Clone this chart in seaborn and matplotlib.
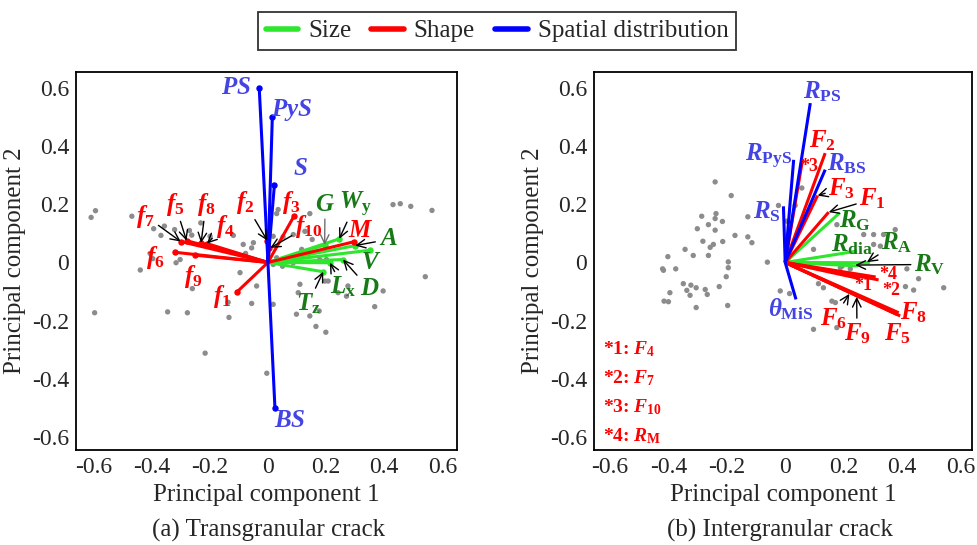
import matplotlib
matplotlib.use("Agg")
import matplotlib.pyplot as plt
import seaborn as sns
import pandas as pd
from matplotlib.lines import Line2D

sns.set_theme(style="white")
plt.rcParams["font.family"] = ["Liberation Serif", "DejaVu Serif"]
plt.rcParams["mathtext.fontset"] = "custom"
plt.rcParams["mathtext.it"] = "Liberation Serif:italic:bold"
plt.rcParams["mathtext.rm"] = "Liberation Serif:bold"
plt.rcParams["mathtext.bf"] = "Liberation Serif:bold"
plt.rcParams["axes.unicode_minus"] = False

# ---------------- data ----------------
tick_values = [-0.6, -0.4, -0.2, 0, 0.2, 0.4, 0.6]
tick_labels = ["-0.6", "-0.4", "-0.2", "0", "0.2", "0.4", "0.6"]
legend_labels = ["Size", "Shape", "Spatial distribution"]

# (a) Transgranular crack: loading vectors
a_names = ["PS", "PyS", "S", "BS",
           "f1", "f2", "f3", "f4", "f5", "f6", "f7", "f8", "f9", "f10", "M",
           "G", "Wy", "A", "V", "D", "Lx", "Tz"]
a_pc1 = [-0.030, 0.015, 0.022, 0.024,
         -0.105, -0.002, 0.090, -0.210, -0.280, -0.320, -0.300, -0.230, -0.250, 0.005, 0.295,
         0.195, 0.245, 0.300, 0.350, 0.258, 0.213, 0.190]
a_pc2 = [0.600, 0.500, 0.265, -0.500,
         -0.100, 0.075, 0.160, 0.065, 0.075, 0.035, 0.072, 0.067, 0.025, 0.050, 0.071,
         0.060, 0.081, 0.058, 0.042, 0.010, -0.001, -0.032]
a_group = ["Spatial distribution"] * 4 + ["Shape"] * 11 + ["Size"] * 7

# (a) scores
a_score_x = [-0.608, -0.593, -0.468, -0.393, -0.368, -0.356, -0.321, -0.270, -0.231, -0.405,
             -0.396, -0.316, -0.302, -0.439, -0.260, -0.596, -0.345, -0.277, -0.216, -0.262,
             -0.199, -0.085, -0.119, 0.035, 0.030, 0.144, -0.050, 0.018, 0.430, 0.455,
             0.491, 0.564, -0.056, -0.077, 0.052, 0.087, 0.127, 0.152, 0.116, 0.178,
             0.201, 0.087, 0.050, 0.030, 0.018, -0.039, -0.056, 0.018, 0.110, 0.104,
             0.098, 0.144, 0.196, 0.207, 0.241, 0.270, 0.275, 0.396, 0.367, 0.541,
             0.176, -0.096, -0.004, -0.137, -0.134, 0.199, 0.165]
a_score_y = [0.155, 0.178, 0.159, 0.116, 0.093, 0.125, 0.113, 0.110, 0.136, 0.031,
             0.013, -0.001, 0.010, -0.026, -0.090, -0.173, -0.170, -0.173, -0.312, 0.094,
             0.090, 0.062, 0.093, 0.182, 0.168, 0.168, 0.068, 0.090, 0.199, 0.202,
             0.193, 0.179, 0.050, 0.031, 0.088, 0.096, 0.107, 0.079, 0.045, 0.010,
             0.010, -0.001, -0.013, 0.016, -0.007, -0.081, -0.141, -0.144, -0.075, -0.104,
             -0.178, -0.184, -0.064, -0.064, -0.104, -0.116, -0.081, -0.098, -0.152, -0.049,
             -0.167, -0.035, -0.381, -0.137, -0.189, -0.240, -0.220]

# (b) Intergranular crack: loading vectors
b_names = ["RPS", "RPyS", "RS", "RBS", "thMiS",
           "F1", "F2", "F3", "F4", "F5", "F6", "F7", "F8", "F9", "F10", "RM",
           "RG", "Rdia", "RA", "RV"]
b_pc1 = [0.086, 0.029, -0.006, 0.137, 0.037,
         0.149, 0.137, 0.111, 0.257, 0.394, 0.375, 0.320, 0.389, 0.385, 0.060, 0.310,
         0.186, 0.246, 0.290, 0.250]
b_pc2 = [0.548, 0.353, 0.193, 0.319, -0.127,
         0.173, 0.376, 0.230, -0.056, -0.184, -0.172, -0.060, -0.173, -0.180, 0.356, -0.050,
         0.170, 0.039, -0.001, -0.012]
b_group = ["Spatial distribution"] * 5 + ["Shape"] * 11 + ["Size"] * 4

# (b) scores
b_score_x = [-0.240, -0.185, -0.286, -0.237, -0.240, -0.263, -0.215, -0.301, -0.240, -0.128,
             -0.172, -0.128, -0.114, -0.282, -0.246, -0.257, -0.214, -0.343, -0.315, -0.263,
             -0.402, -0.420, -0.417, -0.375, -0.195, -0.195, -0.202, -0.061, -0.349, -0.323,
             -0.305, -0.337, -0.274, -0.226, -0.326, -0.267, -0.395, -0.415, -0.400, -0.305,
             -0.197, -0.017, 0.015, -0.023, 0.006, 0.057, 0.034, 0.097, 0.177, 0.269,
             0.303, 0.337, 0.377, 0.195, 0.189, 0.223, 0.417, 0.457, 0.412, 0.440,
             0.543, 0.114, 0.131, 0.160, 0.172, 0.097, 0.177, 0.303, 0.326]
b_score_y = [0.277, 0.230, 0.159, 0.168, 0.151, 0.130, 0.141, 0.116, 0.111, 0.157,
             0.093, 0.088, 0.068, 0.073, 0.062, 0.052, 0.072, 0.045, 0.024, 0.024,
             0.020, -0.022, -0.027, -0.022, 0.002, -0.018, -0.049, 0.001, -0.073, -0.078,
             -0.087, -0.096, -0.093, -0.083, -0.113, -0.110, -0.104, -0.133, -0.135, -0.155,
             -0.148, -0.098, -0.107, 0.196, 0.142, 0.256, 0.196, 0.045, 0.130, 0.096,
             0.096, 0.096, 0.113, -0.013, -0.018, -0.022, -0.022, -0.056, -0.083, -0.095,
             -0.087, -0.073, -0.087, -0.133, -0.138, -0.230, -0.224, 0.062, 0.056]

footnotes = ["*1: $F_4$", "*2: $F_7$", "*3: $F_{10}$", "*4: $R_\\mathrm{M}$"]

# ---------------- layout / style ----------------
line_col = {"Size": "#2ee62e", "Shape": "#ff0000", "Spatial distribution": "#0000ff"}
text_col = {"Size": "#177a17", "Shape": "#ff0000", "Spatial distribution": "#4444e4"}

# label text, label position, arrow target (or None)
a_labels = {
    "PS": ("$PS$", (-0.11, 0.600), None),
    "PyS": ("$PyS$", (0.080, 0.525), None),
    "S": ("$S$", (0.11, 0.320), None),
    "BS": ("$BS$", (0.075, -0.545), None),
    "f1": ("$f_1$", (-0.158, -0.117), None),
    "f2": ("$f_2$", (-0.079, 0.205), (-0.002, 0.075)),
    "f3": ("$f_3$", (0.080, 0.205), None),
    "f4": ("$f_4$", (-0.148, 0.125), (-0.210, 0.065)),
    "f5": ("$f_5$", (-0.319, 0.199), (-0.280, 0.075)),
    "f6": ("$f_6$", (-0.388, 0.016), None),
    "f7": ("$f_7$", (-0.420, 0.159), (-0.300, 0.072)),
    "f8": ("$f_8$", (-0.213, 0.199), (-0.230, 0.067)),
    "f9": ("$f_9$", (-0.256, -0.047), None),
    "f10": ("$f_{10}$", (0.140, 0.125), (0.008, 0.050)),
    "M": ("$M$", (0.320, 0.108), None),
    "G": ("$G$", (0.196, 0.198), (0.195, 0.060)),
    "Wy": ("$W_\\mathrm{y}$", (0.300, 0.200), (0.245, 0.081)),
    "A": ("$A$", (0.413, 0.079), (0.300, 0.058)),
    "V": ("$V$", (0.356, -0.003), None),
    "D": ("$D$", (0.350, -0.093), (0.258, 0.010)),
    "Lx": ("$L_\\mathrm{x}$", (0.258, -0.085), (0.213, -0.001)),
    "Tz": ("$T_\\mathrm{z}$", (0.138, -0.142), (0.190, -0.032)),
}
b_labels = {
    "RPS": ("$R_\\mathrm{PS}$", (0.126, 0.588), None),
    "RPyS": ("$R_\\mathrm{PyS}$", (-0.057, 0.363), None),
    "RS": ("$R_\\mathrm{S}$", (-0.063, 0.176), None),
    "RBS": ("$R_\\mathrm{BS}$", (0.212, 0.340), None),
    "thMiS": ("$\\theta_\\mathrm{MiS}$", (0.020, -0.160), None),
    "F1": ("$F_1$", (0.300, 0.218), (0.149, 0.173)),
    "F2": ("$F_2$", (0.126, 0.420), None),
    "F3": ("$F_3$", (0.194, 0.255), (0.111, 0.230)),
    "F4": ("*1", (0.269, -0.078), None),
    "F5": ("$F_5$", (0.383, -0.245), None),
    "F6": ("$F_6$", (0.166, -0.193), (0.220, -0.108)),
    "F7": ("*2", (0.362, -0.095), None),
    "F8": ("$F_8$", (0.440, -0.173), None),
    "F9": ("$F_9$", (0.246, -0.245), (0.245, -0.118)),
    "F10": ("*3", (0.083, 0.330), None),
    "RM": ("*4", (0.352, -0.043), None),
    "RG": ("$R_\\mathrm{G}$", (0.240, 0.142), None),
    "Rdia": ("$R_\\mathrm{dia}$", (0.229, 0.062), None),
    "RA": ("$R_\\mathrm{A}$", (0.383, 0.068), (0.280, 0.001)),
    "RV": ("$R_\\mathrm{V}$", (0.495, -0.007), (0.240, -0.009)),
}

W, H = 977, 545
fig = plt.figure(figsize=(W / 100, H / 100), dpi=100)
ax_a = fig.add_axes([76 / W, 1 - 450 / H, 381 / W, 378 / H])
ax_b = fig.add_axes([594 / W, 1 - 450 / H, 378 / W, 378 / H])


def draw_panel(ax, sx, sy, names, px, py, groups, labels, xlim, markers):
    sns.scatterplot(x=sx, y=sy, ax=ax, color="#8c8c8c", s=15, edgecolor="none",
                    legend=False, zorder=1)
    df = pd.DataFrame({"name": names, "x": px, "y": py, "group": groups})
    order = {"Size": 2, "Shape": 3, "Spatial distribution": 4}
    for _, r in df.iterrows():
        c = line_col[r.group]
        ax.plot([0, r.x], [0, r.y], color=c, lw=2.2, zorder=order[r.group],
                solid_capstyle="butt")
        if markers:
            ax.plot([r.x], [r.y], "o", color=c, ms=3.6, zorder=order[r.group])
    for _, r in df.iterrows():
        txt, pos, tgt = labels[r["name"]]
        c = text_col[r.group]
        small = txt.startswith("*")
        fs = 13 if small else 18
        kw = dict(ha="center", va="center", fontsize=fs, color=c, zorder=6)
        if small:
            kw["fontweight"] = "bold"
        if tgt is None:
            ax.text(pos[0], pos[1], txt, **kw)
        else:
            acol = "#707070" if r["name"] == "G" else "black"
            ax.annotate(txt, xy=tgt, xytext=pos,
                        arrowprops=dict(arrowstyle="->,head_length=0.35,head_width=0.17",
                                        color=acol, lw=1.0, shrinkA=0, shrinkB=0),
                        **kw)
    ax.set_xlim(*xlim)
    ax.set_ylim(-0.645, 0.655)
    ax.set_xticks(tick_values)
    ax.set_xticklabels(tick_labels)
    ax.set_yticks(tick_values)
    ax.set_yticklabels(tick_labels)
    ax.tick_params(length=0, labelsize=17, pad=5)
    for s in ax.spines.values():
        s.set_color("black")
        s.set_linewidth(1.3)
    ax.set_xlabel("Principal component 1", fontsize=18, labelpad=4)
    ax.set_ylabel("Principal component 2", fontsize=18, labelpad=4)


draw_panel(ax_a, a_score_x, a_score_y, a_names, a_pc1, a_pc2, a_group, a_labels,
           (-0.66, 0.65), True)
draw_panel(ax_b, b_score_x, b_score_y, b_names, b_pc1, b_pc2, b_group, b_labels,
           (-0.655, 0.64), False)

for i, t in enumerate(footnotes):
    ax_b.text(-0.625, -0.298 - 0.1 * i, t, ha="left", va="center", fontsize=14,
              fontweight="bold", color="#ff0000")

fig.text(268 / W, 1 - 530 / H, "(a) Transgranular crack", ha="center", va="center",
         fontsize=18)
fig.text(780 / W, 1 - 530 / H, "(b) Intergranular crack", ha="center", va="center",
         fontsize=18)

handles = [Line2D([], [], color=line_col[g], lw=4) for g in legend_labels]
leg = fig.legend(handles, legend_labels, loc="center", bbox_to_anchor=(497 / W, 1 - 31 / H),
                 ncol=3, frameon=True, fancybox=False, edgecolor="black", fontsize=18,
                 handlelength=1.3, columnspacing=0.8, handletextpad=0.4, borderpad=0.3)
leg.get_frame().set_linewidth(1.3)

fig.savefig("out.png", dpi=100)
